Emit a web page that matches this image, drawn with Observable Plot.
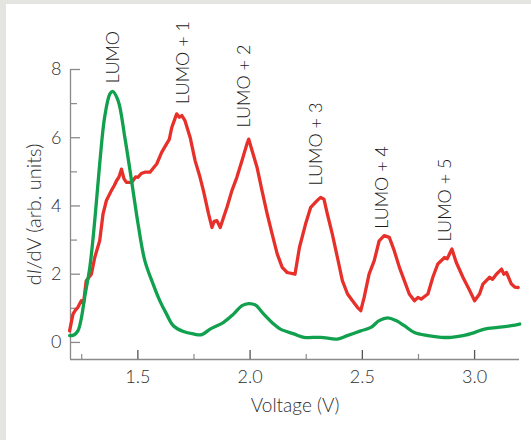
<!DOCTYPE html>
<html><head><meta charset="utf-8">
<script src="https://cdn.jsdelivr.net/npm/d3@7"></script>
<script src="https://cdn.jsdelivr.net/npm/@observablehq/plot@0.6"></script>
<style>
html,body{margin:0;padding:0;background:#e4e4e0;width:531px;height:440px;overflow:hidden;}
#wrap{position:absolute;left:6px;top:4px;width:525px;height:436px;background:#fff;}
svg{display:block;}
</style></head><body><div id="wrap"></div>
<script>
// Green curve (dI/dV, arb. units) vs voltage (V)
const greenV = [1.196,1.215,1.233,1.248,1.263,1.286,1.308,1.33,1.352,1.375,1.387,1.412,1.442,1.472,1.501,1.531,1.568,1.598,1.628,1.658,1.703,1.747,1.785,1.822,1.882,1.926,1.964,1.994,2.023,2.061,2.105,2.135,2.195,2.24,2.314,2.389,2.433,2.493,2.538,2.575,2.613,2.65,2.687,2.732,2.792,2.851,2.896,2.948,2.999,3.044,3.104,3.164,3.201];
const greenY = [0.2,0.22,0.34,0.7,1.32,2.2,3.57,5.23,6.6,7.28,7.36,7.09,6.01,4.74,3.47,2.4,1.71,1.22,0.83,0.49,0.32,0.25,0.23,0.39,0.59,0.83,1.08,1.14,1.1,0.83,0.54,0.39,0.25,0.15,0.15,0.1,0.2,0.34,0.44,0.64,0.72,0.64,0.49,0.29,0.2,0.15,0.15,0.2,0.29,0.39,0.44,0.49,0.54];
// Red curve
const redV = [1.196,1.211,1.222,1.233,1.248,1.258,1.27,1.293,1.308,1.33,1.345,1.36,1.382,1.395,1.405,1.416,1.427,1.438,1.449,1.472,1.49,1.501,1.515,1.531,1.554,1.57,1.584,1.606,1.628,1.64,1.651,1.673,1.685,1.696,1.71,1.733,1.755,1.777,1.792,1.815,1.83,1.84,1.852,1.867,1.882,1.897,1.919,1.941,1.964,1.986,1.994,2.009,2.031,2.053,2.076,2.098,2.121,2.143,2.165,2.2,2.22,2.247,2.27,2.292,2.305,2.314,2.329,2.344,2.366,2.389,2.411,2.434,2.456,2.478,2.493,2.508,2.53,2.553,2.575,2.597,2.62,2.642,2.665,2.687,2.709,2.732,2.748,2.762,2.78,2.792,2.814,2.836,2.866,2.878,2.888,2.899,2.918,2.948,2.978,3.0,3.022,3.037,3.067,3.08,3.097,3.12,3.13,3.142,3.164,3.18,3.194];
const redY = [0.34,0.83,0.95,1.03,1.22,1.15,1.81,2.0,2.49,2.98,3.77,4.16,4.45,4.6,4.74,4.85,5.08,4.8,4.69,4.69,4.85,4.84,4.95,4.99,4.99,5.12,5.23,5.57,5.82,5.95,6.3,6.7,6.6,6.65,6.5,6.01,5.33,4.84,4.45,3.77,3.37,3.55,3.57,3.37,3.67,3.96,4.45,4.84,5.33,5.82,5.96,5.62,5.13,4.45,3.77,3.18,2.59,2.2,2.05,2.0,2.79,3.47,3.96,4.11,4.2,4.25,4.2,3.77,3.18,2.49,1.81,1.42,1.22,1.03,0.93,1.32,2.0,2.4,2.98,3.13,3.08,2.69,2.2,1.81,1.42,1.22,1.32,1.27,1.36,1.42,1.91,2.3,2.49,2.45,2.59,2.74,2.35,1.91,1.52,1.22,1.42,1.71,1.91,1.85,2.0,2.15,2.0,2.05,1.71,1.62,1.61];
// Peak annotations
const peakLabels = ["LUMO","LUMO + 1","LUMO + 2","LUMO + 3","LUMO + 4","LUMO + 5"];
const peakV = [1.39,1.70,1.974,2.296,2.59,2.868];
const peakY = [7.6,6.99,6.3,4.6,3.33,2.96];
// Axes
const xMajor = [1.5,2.0,2.5,3.0];
const xMinor = [1.25,1.75,2.25,2.75];
const yMajor = [0,2,4,6,8];
const yMinor = [1,3,5,7];
const xLabel = "Voltage (V)";
const yLabel = "dI/dV (arb. units)";

const green = greenV.map((v,i)=>({v, y: greenY[i]}));
const red = redV.map((v,i)=>({v, y: redY[i]}));
const peaks = peakLabels.map((t,i)=>({t, v: peakV[i], y: peakY[i]}));
const axisColor = "#8a8a8a";
const textColor = "#2e2e2e";

const plot = Plot.plot({
  width: 525, height: 436,
  marginLeft: 64, marginRight: 12, marginTop: 65, marginBottom: 81,
  x: {domain: [1.2, 3.2]},
  y: {domain: [-0.5, 8]},
  style: {fontFamily: "Lato, 'Open Sans', sans-serif", fontSize: "18px", fontWeight: 300, color: textColor, background: "white", overflow: "visible"},
  marks: [
    Plot.ruleX([1.2], {stroke: axisColor, strokeWidth: 1.3}),
    Plot.ruleY([-0.5], {stroke: axisColor, strokeWidth: 1.3}),
    Plot.axisX(xMajor, {tickSize: -9, fill: "none", stroke: "#555", strokeWidth: 1.3, label: null}),
    Plot.axisX(xMinor, {tickSize: -5, fill: "none", stroke: axisColor, strokeWidth: 1.2, label: null}),
    Plot.axisY(yMajor, {tickSize: -10, fill: "none", stroke: axisColor, strokeWidth: 1.3, label: null}),
    Plot.axisY(yMinor, {tickSize: -7, fill: "none", stroke: axisColor, strokeWidth: 1.2, label: null}),
    Plot.axisX(xMajor, {tickSize: 0, tickPadding: 11, tickFormat: d3.format(".1f"), label: xLabel, labelAnchor: "center", labelOffset: 52, labelArrow: "none", fill: textColor}),
    Plot.axisY(yMajor, {tickSize: 0, tickPadding: 9, label: yLabel, labelAnchor: "center", labelOffset: 44, labelArrow: "none", fill: textColor}),
    Plot.line(red, {x: "v", y: "y", stroke: "#e8302a", strokeWidth: 3.3, strokeLinejoin: "round"}),
    Plot.line(green, {x: "v", y: "y", stroke: "#10a04e", strokeWidth: 3.3, curve: "catmull-rom"}),
    Plot.text(peaks, {x: "v", y: "y", text: "t", rotate: -90, textAnchor: "start", lineAnchor: "middle", fill: "#1a1a1a", fontSize: 18})
  ]
});
document.getElementById("wrap").appendChild(plot);
// larger axis titles, italic I in y label
d3.select(plot).selectAll("text").filter(function(){return this.textContent === xLabel;}).attr("font-size", 19);
d3.select(plot).selectAll("text").filter(function(){return this.textContent === yLabel;}).each(function(){
  const t = d3.select(this); t.attr("font-size", 20); t.text("");
  t.append("tspan").text("d");
  t.append("tspan").attr("font-style","italic").text("I");
  t.append("tspan").text("/dV (arb. units)");
});
</script></body></html>
